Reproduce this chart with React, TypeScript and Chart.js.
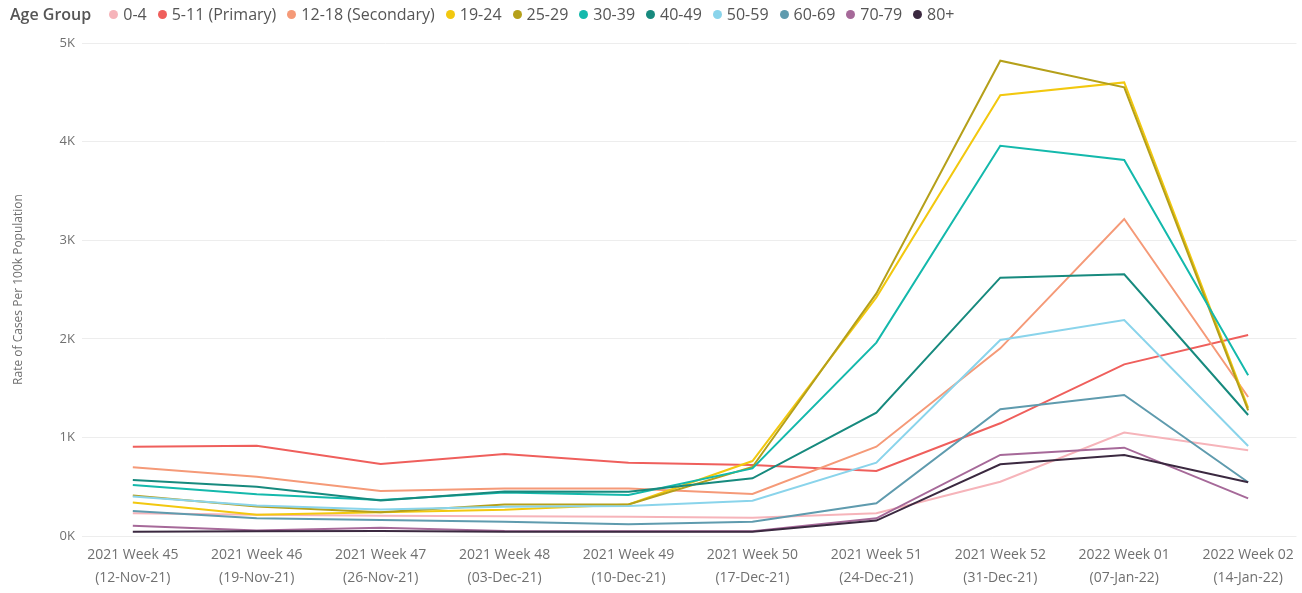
import React, { useEffect, useRef } from "react";
import { Chart, registerables } from "chart.js";

Chart.register(...registerables);

const weeks: string[][] = [
  ["2021 Week 45", "(12-Nov-21)"],
  ["2021 Week 46", "(19-Nov-21)"],
  ["2021 Week 47", "(26-Nov-21)"],
  ["2021 Week 48", "(03-Dec-21)"],
  ["2021 Week 49", "(10-Dec-21)"],
  ["2021 Week 50", "(17-Dec-21)"],
  ["2021 Week 51", "(24-Dec-21)"],
  ["2021 Week 52", "(31-Dec-21)"],
  ["2022 Week 01", "(07-Jan-22)"],
  ["2022 Week 02", "(14-Jan-22)"],
];

const age0_4 = [230, 215, 205, 200, 195, 185, 230, 550, 1050, 870];
const age5_11 = [906, 916, 730, 832, 744, 720, 659, 1143, 1741, 2039];
const age12_18 = [697, 602, 456, 483, 483, 426, 906, 1903, 3215, 1410];
const age19_24 = [340, 215, 240, 265, 320, 760, 2420, 4470, 4600, 1300];
const age25_29 = [410, 300, 240, 320, 320, 700, 2460, 4820, 4550, 1275];
const age30_39 = [517, 423, 365, 440, 416, 686, 1961, 3958, 3813, 1630];
const age40_49 = [568, 500, 360, 452, 449, 585, 1251, 2620, 2654, 1227];
const age50_59 = [400, 310, 268, 297, 304, 358, 744, 1988, 2191, 913];
const age60_69 = [254, 179, 162, 145, 118, 145, 331, 1285, 1430, 545];
const age70_79 = [105, 55, 84, 50, 48, 48, 179, 822, 896, 382];
const age80 = [44, 48, 51, 44, 44, 44, 156, 727, 822, 545];

const seriesNames = [
  "0-4",
  "5-11 (Primary)",
  "12-18 (Secondary)",
  "19-24",
  "25-29",
  "30-39",
  "40-49",
  "50-59",
  "60-69",
  "70-79",
  "80+",
];
const seriesValues = [
  age0_4, age5_11, age12_18, age19_24, age25_29, age30_39,
  age40_49, age50_59, age60_69, age70_79, age80,
];
const seriesColors = [
  "#F6B4BA",
  "#EF5F5C",
  "#F59A78",
  "#F2C80F",
  "#B5A01A",
  "#14B9AC",
  "#178A7E",
  "#8AD4EB",
  "#5F9BAE",
  "#A66999",
  "#3B2940",
];

const yTicks = [0, 1000, 2000, 3000, 4000, 5000];

const FONT = "'Open Sans', 'Noto Sans', sans-serif";

export default function App() {
  const ref = useRef<HTMLCanvasElement | null>(null);

  useEffect(() => {
    document.body.style.margin = "0";
    const canvas = ref.current;
    if (!canvas) return;
    const chart = new Chart(canvas, {
      type: "line",
      data: {
        datasets: seriesNames.map((name, i) => ({
          label: name,
          data: seriesValues[i].map((v, j) => ({ x: j, y: v })),
          borderColor: seriesColors[i],
          backgroundColor: seriesColors[i],
          borderWidth: 2,
          pointRadius: 0,
          tension: 0,
          order: seriesNames.length - i,
        })),
      },
      options: {
        animation: false,
        responsive: false,
        maintainAspectRatio: false,
        layout: { padding: { top: 43, right: 5, left: 0, bottom: 0 } },
        plugins: { legend: { display: false }, tooltip: { enabled: false } },
        scales: {
          x: {
            type: "linear",
            min: -0.41,
            max: 9.39,
            grid: { display: false, drawTicks: false },
            border: { display: false },
            afterFit: (s: any) => {
              s.height = 57;
            },
            afterBuildTicks: (s: any) => {
              s.ticks = weeks.map((_, i) => ({ value: i }));
            },
            ticks: {
              autoSkip: false,
              maxRotation: 0,
              padding: 8,
              color: "#707070",
              font: { family: FONT, size: 14, lineHeight: 1.62 },
              callback: (v: any) => weeks[v as number] ?? "",
            },
          },
          y: {
            min: 0,
            max: 5000,
            afterFit: (s: any) => {
              s.width = 82;
            },
            afterBuildTicks: (s: any) => {
              s.ticks = yTicks.map((v) => ({ value: v }));
            },
            grid: { color: "#EDEDED", drawTicks: false, lineWidth: 1 },
            border: { display: false },
            ticks: {
              padding: 7,
              color: "#707070",
              font: { family: FONT, size: 13 },
              callback: (v: any) => `${Math.round((v as number) / 1000)}K`,
            },
            title: {
              display: true,
              text: "Rate of Cases Per 100k Population",
              color: "#707070",
              font: { family: FONT, size: 12 },
              padding: { top: 11, bottom: 0 },
            },
          },
        },
      },
    });
    return () => chart.destroy();
  }, []);

  return (
    <div style={{ position: "relative", width: 1302, height: 593, background: "#fff" }}>
      <canvas ref={ref} width={1302} height={593} style={{ position: "absolute", left: 0, top: 0 }} />
      <div
        style={{
          position: "absolute",
          left: 10,
          top: 3,
          display: "flex",
          alignItems: "center",
          fontFamily: FONT,
          fontSize: 16,
          color: "#555",
          whiteSpace: "nowrap",
        }}
      >
        <span style={{ fontWeight: 600, color: "#555", marginRight: 18 }}>Age Group</span>
        {seriesNames.map((n, i) => (
          <span key={n} style={{ display: "flex", alignItems: "center", marginRight: 11 }}>
            <span
              style={{
                width: 9,
                height: 9,
                borderRadius: 5,
                background: seriesColors[i],
                display: "inline-block",
                marginRight: 5,
              }}
            />
            {n}
          </span>
        ))}
      </div>
    </div>
  );
}
